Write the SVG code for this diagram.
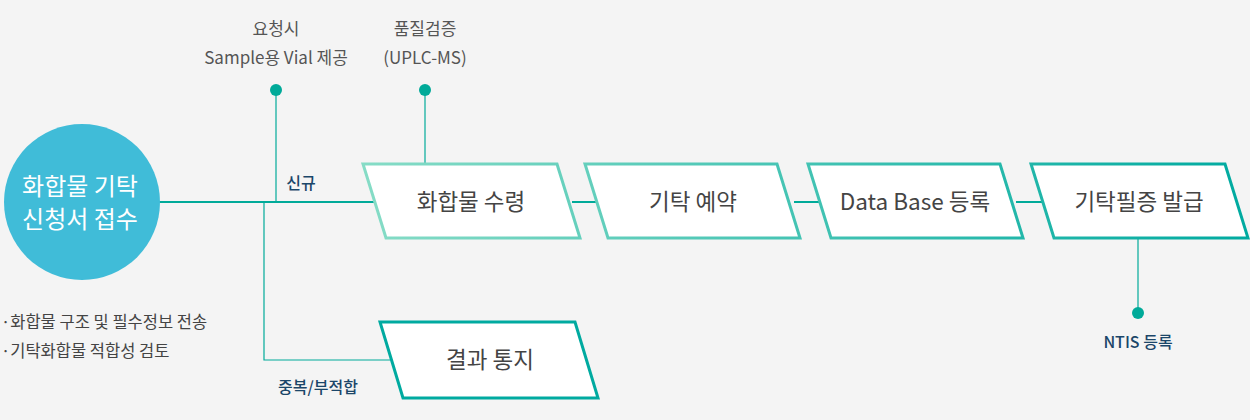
<svg xmlns="http://www.w3.org/2000/svg" width="1250" height="420" viewBox="0 0 1250 420">
<defs>
<linearGradient id="g" gradientUnits="userSpaceOnUse" x1="362" y1="0" x2="1248" y2="0">
<stop offset="0" stop-color="#86dcc6"/>
<stop offset="1" stop-color="#00aaa0"/>
</linearGradient>
<style>
text{font-family:"Noto Sans CJK KR","Noto Sans",sans-serif;}
.box{fill:#fff;stroke:url(#g);stroke-width:3;}
.box5{fill:#fff;stroke:#00aaa0;stroke-width:3;}
.bt{font-size:22.5px;fill:#444;text-anchor:middle;}
.lbl{font-size:17px;fill:#555;text-anchor:middle;}
.nv{font-size:16px;fill:#1b4669;font-weight:500;text-anchor:middle;}
.ln{stroke:#00aa99;fill:none;}
.dot{fill:#00aa99;}
.note{font-size:16.5px;fill:#444;}
</style>
</defs>
<rect width="1250" height="420" fill="#f4f4f4"/>
<g id="connectors">
<line class="ln" x1="158" y1="202" x2="374" y2="202" stroke-width="2"/>
<line class="ln" x1="276" y1="90" x2="276" y2="202" stroke-width="1.2"/>
<line class="ln" x1="425" y1="90" x2="425" y2="163" stroke-width="1.2"/>
<polyline class="ln" points="264,202 264,360 390,360" stroke-width="1.2"/>
<line class="ln" x1="572" y1="202" x2="597" y2="202" stroke-width="2"/>
<line class="ln" x1="794" y1="202" x2="820" y2="202" stroke-width="2"/>
<line class="ln" x1="1016" y1="202" x2="1042" y2="202" stroke-width="2"/>
<line class="ln" x1="1138" y1="238" x2="1138" y2="313" stroke-width="1.2"/>
<circle class="dot" cx="276" cy="90" r="6"/>
<circle class="dot" cx="425" cy="90" r="6"/>
<circle class="dot" cx="1138" cy="313" r="6"/>
<text class="nv" x="301" y="189">신규</text>
<text class="nv" x="318" y="393">중복/부적합</text>
</g>
<g id="start">
<circle cx="82" cy="202" r="78" fill="#40bcd8"/>
<text x="80" y="195" font-size="24" fill="#fff" text-anchor="middle">화합물 기탁</text>
<text x="80" y="228" font-size="24" fill="#fff" text-anchor="middle">신청서 접수</text>
</g>
<g id="notes">
<text class="note" x="1" y="328">·화합물 구조 및 필수정보 전송</text>
<text class="note" x="1" y="357">·기탁화합물 적합성 검토</text>
</g>
<g id="vial">
<text class="lbl" x="276" y="35">요청시</text>
<text class="lbl" x="276" y="64">Sample용 Vial 제공</text>
</g>
<g id="qc">
<text class="lbl" x="425" y="35">품질검증</text>
<text class="lbl" x="425" y="64">(UPLC-MS)</text>
</g>
<g id="n1">
<polygon class="box" points="363,164 557,164 580,238 386,238"/>
<text class="bt" x="471" y="210">화합물 수령</text>
</g>
<g id="n2">
<polygon class="box" points="585,164 777,164 800,238 608,238"/>
<text class="bt" x="693" y="210">기탁 예약</text>
</g>
<g id="n3">
<polygon class="box" points="808,164 1000,164 1023,238 831,238"/>
<text class="bt" x="915" y="210">Data Base 등록</text>
</g>
<g id="n4">
<polygon class="box" points="1031,164 1225,164 1248,238 1054,238"/>
<text class="bt" x="1139" y="210">기탁필증 발급</text>
</g>
<g id="n5">
<polygon class="box5" points="380,322 575,322 598,398 403,398"/>
<text class="bt" x="490" y="368">결과 통지</text>
</g>
<g id="ntis">
<text class="nv" x="1138" y="348">NTIS 등록</text>
</g>
</svg>
